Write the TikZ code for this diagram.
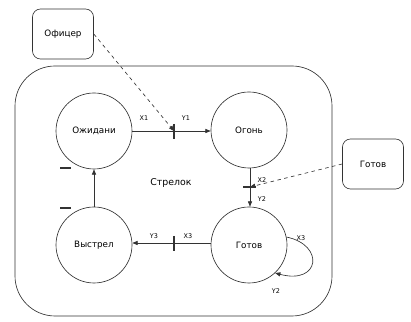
\documentclass[tikz,border=0pt]{standalone}
\usepackage{fontspec}
\setmainfont{DejaVu Sans}
\usetikzlibrary{arrows.meta}

\tikzset{
  state/.style={draw, circle, minimum size=22.8mm, inner sep=0pt, font=\fontsize{7.5}{9}\selectfont},
  actor/.style={draw, rounded corners=2.4mm, minimum width=18.3mm, minimum height=15mm, font=\fontsize{7.5}{9}\selectfont},
  sig/.style={font=\fontsize{5.5}{6}\selectfont},
  tickmark/.style={line width=1.1pt},
}

\begin{document}
\begin{tikzpicture}[>={Triangle[length=4.5pt,width=3.5pt]}, x=0.3mm, y=-0.3mm, line width=0.55pt, draw=black!80]
	\useasboundingbox (0,0) rectangle (411,322);
	\draw[rounded corners=12mm] (15,66) rectangle (332,316);
	\node[font=\fontsize{8}{9}\selectfont] (shooter) at (171,183) {Стрелок};
	\node[actor] (officer) at (63,34) {Офицер};
	\node[actor] (readybox) at (373,164) {Готов};
	\node[state] (wait) at (94,131) {Ожидани};
	\node[state] (fire) at (249,130) {Огонь};
	\node[state] (ready) at (249,245) {Готов};
	\node[state] (shot) at (94,245) {Выстрел};
	\coordinate (t1) at (174,131);
	\coordinate (t2) at (250,187);
	\coordinate (t3) at (174,243);
	\draw[->] (wait.east |- t1) -- (fire.west |- t1);
	\draw[tickmark] (174,124) -- (174,139);
	\node[sig] at (144,118) {X1};
	\node[sig] at (186,118) {Y1};
	\draw[->] (fire.south -| t2) -- (ready.north -| t2);
	\draw[tickmark] (243,187) -- (256,187);
	\node[sig] at (262,180) {X2};
	\node[sig] at (262,199) {Y2};
	\draw[->] (ready.west |- t3) -- (shot.east |- t3);
	\draw[tickmark] (174,236) -- (174,251);
	\node[sig] at (154,236) {Y3};
	\node[sig] at (188,236) {X3};
	\draw[->] (shot) -- (wait);
	\draw[line width=1.2pt] (60,168) -- (71,168);
	\draw[line width=1.2pt] (60,208) -- (71,208);
	\draw[->] (ready.12) .. controls (325,245) and (320,285) .. (ready.-47);
	\node[sig] at (301,238) {X3};
	\node[sig] at (276,291) {Y2};
	\draw[dashed, ->] (officer.east) -- (t1);
	\draw[dashed, ->] (readybox.west) -- (t2);
\end{tikzpicture}
\end{document}
